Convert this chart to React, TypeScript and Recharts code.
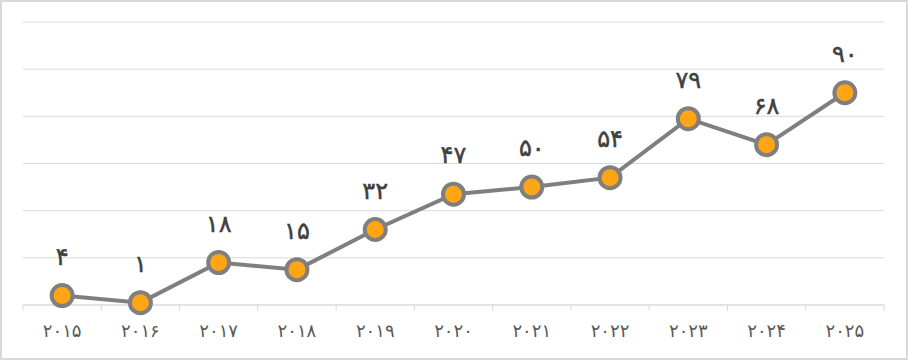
import React from "react";
import { ComposedChart, Line, XAxis, YAxis, CartesianGrid, LabelList } from "recharts";

const years = ["۲۰۱۵", "۲۰۱۶", "۲۰۱۷", "۲۰۱۸", "۲۰۱۹", "۲۰۲۰", "۲۰۲۱", "۲۰۲۲", "۲۰۲۳", "۲۰۲۴", "۲۰۲۵"];
const values = [4, 1, 18, 15, 32, 47, 50, 54, 79, 68, 90];
const valueLabels = ["۴", "۱", "۱۸", "۱۵", "۳۲", "۴۷", "۵۰", "۵۴", "۷۹", "۶۸", "۹۰"];
const yTicks = [0, 20, 40, 60, 80, 100, 120];

const data = years.map((y, i) => ({ year: y, value: values[i], label: valueLabels[i] }));

const CHART_W = 904;
const CHART_H = 356;
const MARGIN = { top: 20, right: 22, bottom: 23, left: 21 };
const N = years.length;

const XTick = (props: any) => {
  const { x, y, payload, index } = props;
  const half =
    payload && typeof payload.offset === "number" && payload.offset > 0
      ? payload.offset
      : (CHART_W - MARGIN.left - MARGIN.right) / N / 2;
  const axisY = y - 8;
  return (
    <g>
      <line x1={x - half} x2={x - half} y1={axisY} y2={axisY + 6} stroke="#d9d9d9" strokeWidth={1} />
      {index === N - 1 && (
        <line x1={x + half} x2={x + half} y1={axisY} y2={axisY + 6} stroke="#d9d9d9" strokeWidth={1} />
      )}
      <text x={x} y={axisY + 32} textAnchor="middle" fill="#595959" fontSize={18} fontFamily="DejaVu Sans">
        {payload.value}
      </text>
    </g>
  );
};

const ValueLabel = (props: any) => {
  const { x, y, value } = props;
  return (
    <text
      x={x}
      y={y - 31}
      textAnchor="middle"
      fill="#404040"
      stroke="#404040"
      strokeWidth={0.5}
      fontSize={24}
      fontFamily="DejaVu Sans"
    >
      {value}
    </text>
  );
};

export default function App() {
  return (
    <div
      style={{
        position: "absolute",
        left: 0,
        top: 0,
        width: 908,
        height: 360,
        boxSizing: "border-box",
        border: "2px solid #d9d9d9",
        background: "#fff",
      }}
    >
      <ComposedChart width={CHART_W} height={CHART_H} data={data} margin={MARGIN}>
        <CartesianGrid vertical={false} stroke="#d9d9d9" strokeWidth={1} />
        <XAxis
          dataKey="year"
          scale="band"
          height={30}
          axisLine={{ stroke: "#d9d9d9", strokeWidth: 1 }}
          tickLine={false}
          tick={<XTick />}
          interval={0}
        />
        <YAxis hide domain={[0, 120]} ticks={yTicks} width={0} />
        <Line
          dataKey="value"
          stroke="#7f7f7f"
          strokeWidth={4}
          isAnimationActive={false}
          dot={{ r: 10.5, fill: "#ffa516", stroke: "#7f7f7f", strokeWidth: 4 }}
        >
          <LabelList dataKey="label" content={<ValueLabel />} />
        </Line>
      </ComposedChart>
    </div>
  );
}
